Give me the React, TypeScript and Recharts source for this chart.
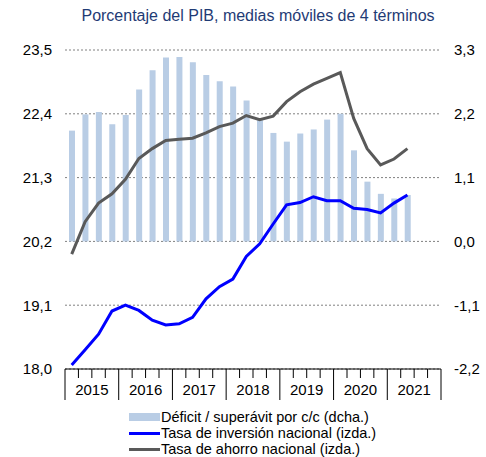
import React from 'react';
import { ComposedChart, Bar, Line, XAxis, YAxis, CartesianGrid, Legend } from 'recharts';

const quarters = [
  '2015-T1', '2015-T2', '2015-T3', '2015-T4',
  '2016-T1', '2016-T2', '2016-T3', '2016-T4',
  '2017-T1', '2017-T2', '2017-T3', '2017-T4',
  '2018-T1', '2018-T2', '2018-T3', '2018-T4',
  '2019-T1', '2019-T2', '2019-T3', '2019-T4',
  '2020-T1', '2020-T2', '2020-T3', '2020-T4',
  '2021-T1', '2021-T2', '2021-T3', '2021-T4',
];

const deficitCC = [
  1.91, 2.19, 2.23, 2.02, 2.18, 2.62, 2.95, 3.17, 3.18, 3.09, 2.87, 2.76, 2.67,
  2.43, 2.09, 1.87, 1.72, 1.86, 1.93, 2.10, 2.20, 1.57, 1.03, 0.82, 0.74, 0.80,
];

const inversion = [
  18.07, 18.33, 18.60, 19.00, 19.10, 19.01, 18.84, 18.76, 18.78, 18.89, 19.21, 19.42, 19.55,
  19.94, 20.16, 20.50, 20.83, 20.87, 20.97, 20.90, 20.90, 20.77, 20.75, 20.69, 20.86, 21.00,
];

const ahorro = [
  19.98, 20.54, 20.86, 21.02, 21.27, 21.63, 21.80, 21.94, 21.96, 21.98, 22.07, 22.18, 22.24,
  22.37, 22.30, 22.36, 22.61, 22.78, 22.91, 23.01, 23.11, 22.32, 21.80, 21.52, 21.62, 21.80,
];

const leftTicks = [18.0, 19.1, 20.2, 21.3, 22.4, 23.5];
const rightTicks = [-2.2, -1.1, 0.0, 1.1, 2.2, 3.3];

const titleText = 'Porcentaje del PIB, medias móviles de 4 términos';
const legendDeficit = 'Déficit / superávit por c/c (dcha.)';
const legendInversion = 'Tasa de inversión nacional (izda.)';
const legendAhorro = 'Tasa de ahorro nacional (izda.)';

const data = quarters.map((q, i) => ({
  q,
  deficit: i < deficitCC.length ? deficitCC[i] : null,
  inversion: i < inversion.length ? inversion[i] : null,
  ahorro: i < ahorro.length ? ahorro[i] : null,
}));

const FONT = '"Liberation Sans", Arial, sans-serif';
const BAR_COLOR = '#B9CDE5';
const BLUE = '#0000FF';
const GRAY = '#595959';

const CHART_W = 486;
const CHART_H = 457;
const M_LEFT = 8;
const Y_LEFT_W = 57;
const Y_RIGHT_W = 45;
const PLOT_W = CHART_W - M_LEFT - Y_LEFT_W - Y_RIGHT_W;
const BW = PLOT_W / quarters.length;

const fmt = (v: number) => v.toFixed(1).replace('.', ',');

function QuarterTick(props: any) {
  const { x, y, payload } = props;
  const label = String(payload.value);
  const year = label.slice(0, 4);
  const qn = label.slice(-1);
  const x0 = x - BW / 2;
  const isLast = label === quarters[quarters.length - 1];
  return (
    <g>
      <line x1={x0} x2={x0} y1={y} y2={y + (qn === '1' ? 31 : 9)} stroke="#000" strokeWidth={1} />
      {isLast && (
        <line x1={x + BW / 2} x2={x + BW / 2} y1={y} y2={y + 31} stroke="#000" strokeWidth={1} />
      )}
      {qn === '3' && (
        <text x={x0} y={y + 26} textAnchor="middle" fontSize={15} fontFamily={FONT} fill="#000">
          {year}
        </text>
      )}
    </g>
  );
}

function LegendContent() {
  const rows = [
    { label: legendDeficit, kind: 'bar', color: BAR_COLOR },
    { label: legendInversion, kind: 'line', color: BLUE },
    { label: legendAhorro, kind: 'line', color: GRAY },
  ];
  return (
    <div style={{ fontFamily: FONT, fontSize: 14.5, color: '#000', lineHeight: '16px' }}>
      {rows.map((r) => (
        <div key={r.label} style={{ display: 'flex', alignItems: 'center', height: 16 }}>
          <div
            style={{
              width: 31,
              height: r.kind === 'bar' ? 8 : 3,
              background: r.color,
              marginRight: 1,
            }}
          />
          <span style={{ whiteSpace: 'nowrap' }}>{r.label}</span>
        </div>
      ))}
    </div>
  );
}

export default function App() {
  return (
    <div style={{ position: 'absolute', left: 0, top: 0, width: CHART_W, height: CHART_H }}>
      <div
        style={{
          position: 'absolute',
          left: 30,
          top: 6,
          width: 456,
          textAlign: 'center',
          fontFamily: FONT,
          fontSize: 16,
          color: '#1F3B75',
          lineHeight: '20px',
          whiteSpace: 'nowrap',
        }}
      >
        {titleText}
      </div>
      <ComposedChart
        width={CHART_W}
        height={CHART_H}
        data={data}
        margin={{ top: 50, right: 0, bottom: 48, left: M_LEFT }}
        style={{ fontFamily: FONT }}
      >
        <CartesianGrid
          yAxisId="left"
          vertical={false}
          horizontal={true}
          stroke="#808080"
          strokeDasharray="2 2"
        />
        <XAxis
          dataKey="q"
          interval={0}
          height={40}
          tick={<QuarterTick />}
          tickLine={false}
          tickSize={0}
          tickMargin={0}
          axisLine={{ stroke: '#000', strokeWidth: 1 }}
        />
        <YAxis
          yAxisId="left"
          orientation="left"
          width={Y_LEFT_W}
          domain={[18.0, 23.5]}
          ticks={leftTicks}
          tickFormatter={fmt}
          axisLine={false}
          tickLine={false}
          tickMargin={7}
          tick={{ fontSize: 15, fill: '#000', fontFamily: FONT }}
        />
        <YAxis
          yAxisId="right"
          orientation="right"
          width={Y_RIGHT_W}
          domain={[-2.2, 3.3]}
          ticks={rightTicks}
          tickFormatter={fmt}
          axisLine={false}
          tickLine={false}
          tickMargin={7}
          tick={{ fontSize: 15, fill: '#000', fontFamily: FONT, textAnchor: 'start' }}
        />
        <Bar yAxisId="right" dataKey="deficit" fill={BAR_COLOR} barSize={6} isAnimationActive={false} />
        <Line
          yAxisId="left"
          type="linear"
          dataKey="inversion"
          stroke={BLUE}
          strokeWidth={3}
          dot={false}
          activeDot={false}
          isAnimationActive={false}
        />
        <Line
          yAxisId="left"
          type="linear"
          dataKey="ahorro"
          stroke={GRAY}
          strokeWidth={3}
          dot={false}
          activeDot={false}
          isAnimationActive={false}
        />
        <Legend
          layout="vertical"
          align="center"
          verticalAlign="middle"
          content={<LegendContent />}
          wrapperStyle={{ position: 'absolute', left: 129, top: 409, width: 340, height: 48 }}
        />
      </ComposedChart>
    </div>
  );
}
